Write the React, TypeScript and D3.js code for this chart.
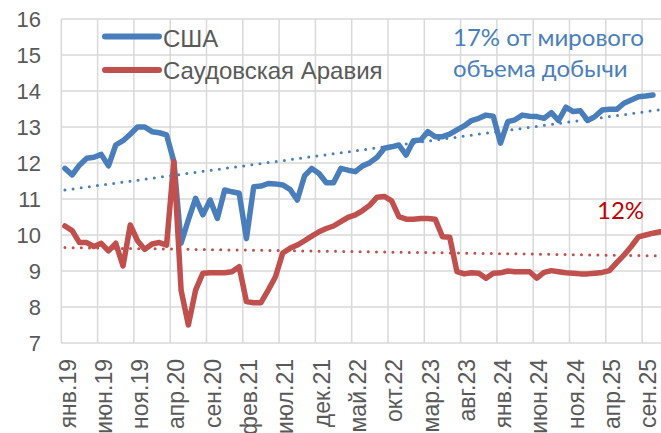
import * as d3 from "d3";

// monthly production, mb/d, Jan 2019 .. Nov 2025
const usa = [
  11.85, 11.67, 11.94, 12.13, 12.16, 12.24, 11.92, 12.5, 12.62, 12.8, 13.0, 13.0,
  12.87, 12.84, 12.78, 12.05, 9.77, 10.42, 11.02, 10.56, 10.97, 10.46, 11.25, 11.2,
  11.16, 9.9, 11.34, 11.36, 11.43, 11.42, 11.39, 11.27, 10.97, 11.64, 11.85, 11.71,
  11.45, 11.45, 11.85, 11.8, 11.76, 11.92, 12.01, 12.16, 12.41, 12.45, 12.5, 12.22,
  12.62, 12.64, 12.87, 12.73, 12.73, 12.8, 12.92, 13.03, 13.18, 13.24, 13.33, 13.3,
  12.55, 13.15, 13.2, 13.33, 13.3, 13.29, 13.24, 13.4, 13.18, 13.55, 13.43, 13.45,
  13.18, 13.29, 13.47, 13.49, 13.49, 13.66, 13.75, 13.84, 13.86, 13.89,
];
const saudi = [
  10.25, 10.12, 9.79, 9.79, 9.68, 9.77, 9.56, 9.77, 9.14, 10.28, 9.84, 9.6,
  9.75, 9.79, 9.72, 12.04, 8.47, 7.5, 8.47, 8.94, 8.95, 8.95, 8.95, 8.98,
  9.12, 8.15, 8.12, 8.12, 8.47, 8.84, 9.5, 9.63, 9.72, 9.84, 9.97, 10.09,
  10.18, 10.25, 10.37, 10.49, 10.56, 10.68, 10.83, 11.05, 11.07, 10.95, 10.51, 10.44,
  10.44, 10.46, 10.46, 10.44, 9.95, 9.94, 8.98, 8.92, 8.95, 8.94, 8.8, 8.94,
  8.95, 9.0, 8.98, 8.98, 8.98, 8.8, 8.96, 9.01, 8.98, 8.95, 8.94, 8.92,
  8.92, 8.94, 8.96, 9.01, 9.23, 9.44, 9.68, 9.95, 10.0, 10.05, 10.09,
];
// linear trend end values (first and last month)
const usaTrend = [11.25, 13.48];
const saudiTrend = [9.65, 9.42];

const monthLabels = [
  "янв.19", "июн.19", "ноя.19", "апр.20", "сен.20", "фев.21", "июл.21", "дек.21", "май.22",
  "окт.22", "мар.23", "авг.23", "янв.24", "июн.24", "ноя.24", "апр.25", "сен.25",
];
const yTicks = [7, 8, 9, 10, 11, 12, 13, 14, 15, 16];
const seriesNames = ["США", "Саудовская Аравия"];

const blue = "#4a7ebb";
const red = "#c0504d";
const grid = "#d9d9d9";
const textGray = "#595959";
const axisFont = "'Liberation Sans', Arial, sans-serif";
const noteFont = "Lato, 'Open Sans', sans-serif";

export default function App() {
  const width = 661;
  const height = 433;
  const nMonths = 83;
  const x = d3.scaleLinear([0, nMonths], [61.3, 61.3 + nMonths * 7.26]);
  const y = d3.scaleLinear([7, 16], [343, 19]);
  const px = (i: number) => x(i + 0.5);

  const line = d3
    .line<number>()
    .x((_, i) => px(i))
    .y((d) => y(d));

  const trend = (t: number[]) => ({ x1: px(0), y1: y(t[0]), x2: px(nMonths - 1), y2: y(t[1]) });
  const bt = trend(usaTrend);
  const rt = trend(saudiTrend);

  return (
    <svg width={width} height={height} style={{ position: "absolute", left: 0, top: 0, background: "#fff" }}>
      {/* grid */}
      <g stroke={grid} strokeWidth={1.5}>
        {yTicks.map((t) => (
          <line key={t} x1={x(0)} x2={width} y1={y(t)} y2={y(t)} />
        ))}
        {monthLabels.map((_, k) => (
          <line key={k} x1={x(k * 5)} x2={x(k * 5)} y1={y(16)} y2={y(7)} />
        ))}
      </g>

      {/* y axis labels */}
      <g fontFamily={axisFont} fontSize={22} fill={textGray} textAnchor="end">
        {yTicks.map((t) => (
          <text key={t} x={41} y={y(t)} dy="0.36em">
            {t}
          </text>
        ))}
      </g>

      {/* x axis labels */}
      <g fontFamily={axisFont} fontSize={23} fill={textGray} textAnchor="end">
        {monthLabels.map((m, k) => (
          <text
            key={m}
            transform={`translate(${x(k * 5) + 6},359) rotate(-90)`}
            dy="0.36em"
          >
            {m}
          </text>
        ))}
      </g>

      {/* series */}
      <path d={line(usa) ?? ""} fill="none" stroke={blue} strokeWidth={5.5} strokeLinejoin="round" strokeLinecap="round" />
      <path d={line(saudi) ?? ""} fill="none" stroke={red} strokeWidth={5.5} strokeLinejoin="round" strokeLinecap="round" />

      {/* trend lines */}
      <line {...bt} stroke={blue} strokeWidth={3} strokeDasharray="0 8.2" strokeLinecap="round" />
      <line {...rt} stroke={red} strokeWidth={3} strokeDasharray="0 8.2" strokeLinecap="round" />

      {/* legend */}
      <g fontFamily={axisFont} fontSize={24} fill={textGray}>
        <line x1={105} x2={159} y1={36.5} y2={36.5} stroke={blue} strokeWidth={6} strokeLinecap="round" />
        <text x={163} y={47}>{seriesNames[0]}</text>
        <line x1={105} x2={159} y1={70} y2={70} stroke={red} strokeWidth={6} strokeLinecap="round" />
        <text x={163} y={79}>{seriesNames[1]}</text>
      </g>

      {/* annotations */}
      <g fontFamily={noteFont} fontSize={24}>
        <text x={453} y={46} fill={blue}>17% от мирового</text>
        <text x={453} y={77} fill={blue}>объема добычи</text>
        <text x={597} y={219} fill="#c00000">12%</text>
      </g>
    </svg>
  );
}
